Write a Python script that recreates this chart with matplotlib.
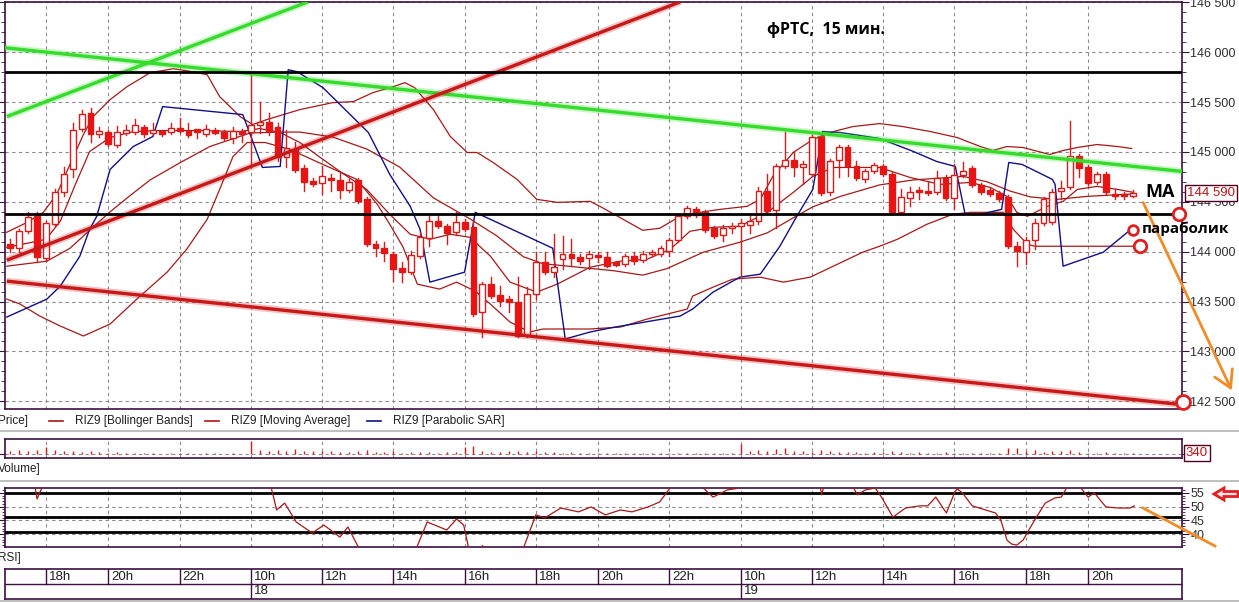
import matplotlib
matplotlib.use('Agg')
import matplotlib.pyplot as plt
from matplotlib.patches import Rectangle, Polygon, FancyArrowPatch
from matplotlib.lines import Line2D
from matplotlib.ticker import MultipleLocator, FuncFormatter

NARROW = ['Liberation Sans', 'DejaVu Sans']
BOLD = ['Open Sans', 'DejaVu Sans']
plt.rcParams['font.family'] = NARROW

# ---- 15 min candles, bar index -4 .. 122 (index 0 = 18h of day 18)
first_bar = -4
opens = [144075, 144035, 144205, 144355,
         143935, 144275, 144595, 144825, 145235, 145395, 145185, 145205, 145075, 145195,
         145205, 145255, 145195, 145205, 145205, 145245, 145215, 145215, 145185, 145225,
         145205, 145145, 145215, 145205, 145275, 145305, 145255, 144945, 145035, 144835,
         144705, 144685, 144735, 144715, 144615, 144715, 144525, 144075, 144035, 143975,
         143835, 143795, 143955, 144135, 144305, 144255, 144195, 144295, 144245, 143395,
         143675, 143565, 143525, 143495, 143165, 143575, 143895, 143795, 143925, 143975,
         143945, 143935, 143965, 143945, 143895, 143875, 143955, 143915, 143975, 143975,
         144005, 144115, 144355, 144425, 144395, 144235, 144165, 144235, 144255, 144265,
         144305, 144605, 144415, 144855, 144915, 144845, 144775, 145165, 144595, 144915,
         145055, 144855, 144725, 144805, 144855, 144775, 144395, 144535, 144605, 144605,
         144595, 144735, 144535, 144765, 144835, 144665, 144615, 144585, 144545, 144055,
         143995, 144115, 144285, 144295, 144605, 144645, 144955, 144845, 144695, 144775,
         144575, 144565, 144555]
highs = [144125, 144225, 144395, 144395,
         144305, 144625, 144845, 145295, 145425, 145445, 145255, 145225, 145265, 145275,
         145335, 145275, 145295, 145225, 145295, 145345, 145295, 145225, 145275, 145245,
         145225, 145255, 145235, 145805, 145505, 145395, 145295, 145225, 145105, 144865,
         144735, 144855, 144775, 144795, 144725, 144735, 144545, 144105, 144095, 143995,
         143895, 144005, 144195, 144355, 144375, 144275, 144395, 144325, 144305, 143695,
         143745, 143655, 143555, 143745, 143645, 143995, 143995, 144175, 144155, 144125,
         143975, 144005, 143995, 143995, 143905, 143975, 143995, 144005, 144015, 144055,
         144135, 144375, 144455, 144445, 144415, 144255, 144265, 144285, 144325, 144355,
         144645, 144775, 144875, 145205, 145005, 144905, 145175, 145185, 144925, 145075,
         145075, 144905, 144825, 144885, 144875, 144795, 144625, 144645, 144645, 144695,
         144805, 144765, 144875, 144895, 144855, 144685, 144635, 144605, 144565, 144095,
         144145, 144325, 144545, 144625, 144705, 145315, 144975, 144865, 144795, 144795,
         144625, 144595, 144615]
lows = [143995, 143995, 144185, 143895,
        143905, 144255, 144555, 144745, 145215, 145105, 145155, 145065, 145055, 145175,
        145185, 145155, 145175, 145165, 145185, 145195, 145155, 145145, 145165, 145185,
        145125, 145095, 145105, 144855, 145195, 145175, 144905, 144845, 144795, 144605,
        144655, 144575, 144605, 144535, 144595, 144485, 144055, 143955, 143905, 143705,
        143695, 143775, 143935, 144055, 144235, 144075, 144165, 144205, 143355, 143145,
        143535, 143455, 143395, 143145, 143145, 143525, 143775, 143745, 143825, 143855,
        143875, 143825, 143895, 143845, 143855, 143855, 143875, 143895, 143955, 143955,
        143955, 144095, 144335, 144345, 144195, 144135, 144105, 144185, 143755, 144185,
        144275, 144375, 144235, 144835, 144755, 144675, 144755, 144565, 144565, 144745,
        144755, 144715, 144695, 144785, 144755, 144375, 144375, 144455, 144525, 144565,
        144575, 144515, 144425, 144745, 144645, 144575, 144555, 144505, 144035, 143855,
        143875, 144025, 144265, 144275, 144525, 144625, 144745, 144665, 144675, 144575,
        144525, 144525, 144545]
closes = [144035, 144205, 144345, 143945,
          144285, 144595, 144775, 145225, 145385, 145185, 145215, 145085, 145205, 145215,
          145275, 145185, 145225, 145185, 145245, 145215, 145175, 145205, 145235, 145195,
          145145, 145215, 145185, 145275, 145305, 145215, 144945, 145045, 144815, 144695,
          144675, 144755, 144715, 144615, 144695, 144505, 144075, 144035, 143985, 143825,
          143795, 143965, 144145, 144305, 144255, 144185, 144295, 144225, 143375, 143675,
          143555, 143505, 143495, 143155, 143575, 143895, 143795, 143845, 143975, 143935,
          143905, 143975, 143945, 143855, 143865, 143955, 143905, 143975, 143995, 144035,
          144115, 144355, 144435, 144365, 144215, 144155, 144235, 144255, 144285, 144305,
          144605, 144405, 144855, 144915, 144845, 144875, 145155, 144585, 144905, 145055,
          144855, 144735, 144805, 144865, 144775, 144395, 144545, 144595, 144595, 144585,
          144735, 144535, 144765, 144805, 144665, 144595, 144575, 144525, 144055, 144005,
          144115, 144285, 144525, 144595, 144635, 144955, 144835, 144685, 144775, 144595,
          144555, 144555, 144590]
volumes = [60, 80, 70, 90,
           150, 90, 70, 60, 50, 60, 40, 30, 40,
           20, 30, 20, 20, 10, 20, 20, 15, 10, 20, 15, 10, 20, 10,
           260,
           90, 70, 80, 60, 100, 70, 60,
           60, 70, 50, 40, 60, 80, 50, 40,
           60, 30, 40, 50, 40, 30, 40, 50,
           150, 160, 60, 50, 40, 60, 70, 50,
           60, 40, 50, 30, 40, 30, 20, 30,
           20, 30, 20, 20, 30, 20, 20, 30,
           20, 20, 30, 20, 20, 20, 20,
           200,
           70, 80, 60, 110, 120, 70, 60, 50,
           80, 60, 40, 50, 40, 30, 40, 50,
           60, 40, 30, 40, 30, 30, 40, 30,
           20, 30, 20, 30, 30, 120,
           130, 60, 80, 50, 60, 70, 80, 40,
           30, 20, 40, 20, 20, 20]

# ---- indicators (bar index, value)
ub_k = [-4.4, -2.1, -0.3, 1.2, 2.7, 4.2, 5.3, 7.2, 9.1, 11.7, 14.3, 15.8, 18.1, 19.5, 21.8,
        23.2, 24.8, 28.5, 32.2, 34.5, 36.7, 39.0, 40.3, 41.4, 43.5, 45.4, 47.3, 48.4, 50.2,
        52.9, 55.1, 57.4, 61.1, 62.2, 64.8, 67.0, 68.9, 71.2, 73.4, 75.7, 78.7, 80.2, 81.6,
        83.9, 86.1, 88.4, 90.6, 93.6, 96.2, 99.3, 102.3, 104.9, 106.3, 107.9, 109.7, 112.7,
        114.2, 115.8, 118.0, 120.3, 121.9]
ub_p = [144195, 144295, 144395, 144575, 144875, 145175, 145355, 145525, 145655, 145795,
        145835, 145815, 145775, 145555, 145355, 145275, 145325, 145425, 145495, 145505,
        145595, 145655, 145695, 145645, 145425, 145155, 144995, 144995, 144895, 144725,
        144525, 144495, 144505, 144455, 144325, 144215, 144235, 144355, 144395, 144425,
        144455, 144525, 144755, 144995, 145125, 145205, 145255, 145285, 145255, 145205,
        145145, 145055, 145015, 145055, 145045, 144975, 145015, 145045, 145075, 145055,
        145035]
mb_k = [-4.4, 0.1, 2.7, 4.9, 7.2, 9.4, 11.7, 15.0, 18.4, 22.9, 26.3, 28.5, 32.2, 36.0, 39.7,
        43.5, 47.6, 50.6, 53.6, 55.8, 59.2, 63.7, 67.0, 69.7, 73.8, 77.9, 81.0, 83.9, 86.1,
        89.2, 93.6, 97.4, 103.0, 105.7, 108.2, 110.5, 113.5, 116.9, 122.1]
mb_p = [143855, 143905, 144035, 144215, 144400, 144560, 144720, 144890, 145055, 145190,
        145200, 145200, 145150, 145030, 144850, 144540, 144330, 144160, 143950, 143880,
        143850, 143810, 143765, 143830, 143995, 144095, 144190, 144340, 144450, 144555,
        144670, 144720, 144755, 144700, 144610, 144550, 144525, 144555, 144580]
lb_k = [-4.4, -2.9, -0.7, 1.6, 4.2, 7.2, 10.2, 13.6, 15.8, 18.1, 19.5, 21.0, 22.6, 24.6,
        27.4, 31.1, 34.9, 37.2, 38.6, 40.1, 41.7, 44.2, 46.1, 48.2, 49.9, 52.1, 54.3, 55.8,
        61.1, 64.5, 67.5, 72.0, 72.6, 74.9, 77.1, 80.2, 82.8, 85.8, 88.4, 91.7, 93.6, 95.6,
        98.9, 101.8, 103.8, 107.5, 108.6, 110.2, 111.0, 122.8]
lb_p = [143525, 143475, 143355, 143255, 143155, 143275, 143525, 143795, 144025, 144325,
        144625, 144955, 145095, 145095, 145025, 144875, 144725, 144475, 144275, 144045,
        143675, 143625, 143695, 143605, 143475, 143295, 143195, 143225, 143225, 143245,
        143325, 143425, 143555, 143645, 143725, 143745, 143695, 143745, 143855, 143995,
        144055, 144125, 144275, 144375, 144395, 144395, 144225, 144075, 144055, 144055]
ma_k = [-4.4, -2.1, 0.0, 1.6, 3.3, 4.9, 7.2, 9.8, 12.8, 17.3, 21.8, 24.0, 26.3, 28.5, 30.8,
        33.0, 36.0, 38.6, 40.9, 43.1, 45.4, 47.6, 49.9, 52.1, 55.1, 57.4, 61.1, 64.5, 67.5,
        70.1, 72.3, 74.9, 77.9, 81.0, 83.9, 86.1, 88.4, 91.1, 93.6, 97.0, 100.4, 103.8,
        106.0, 107.9, 109.0, 110.2, 112.4, 114.2, 115.8, 118.0, 120.3, 122.1]
ma_p = [144045, 144085, 144125, 144305, 144675, 145005, 145145, 145205, 145215, 145215,
        145205, 145235, 145195, 145095, 144945, 144805, 144625, 144375, 144175, 144125,
        144175, 144145, 143955, 143695, 143595, 143675, 143845, 143905, 143925, 144025,
        144205, 144245, 144255, 144395, 144595, 144755, 144845, 144845, 144845, 144745,
        144675, 144695, 144645, 144555, 144395, 144355, 144455, 144505, 144625, 144655,
        144625, 144595]
sar_k = [-4.4, 0.1, 1.6, 3.8, 4.9, 5.7, 7.2, 9.8, 12.0, 13.1, 22.1, 24.3, 26.3, 27.2, 28.2,
         31.1, 36.2, 38.6, 40.9, 42.0, 43.1, 47.0, 48.2, 56.9, 58.3, 61.1, 63.3, 71.2, 72.6,
         74.9, 77.9, 80.2, 82.4, 84.3, 86.1, 86.9, 87.2, 89.2, 93.6, 97.4, 100.0, 102.1,
         103.2, 104.9, 107.3, 108.1, 109.6, 113.0, 113.3, 114.2, 118.7, 121.7]
sar_p = [143345, 143525, 143655, 143955, 144225, 144355, 144825, 145055, 145155, 145455,
         145375, 144845, 144855, 145825, 145805, 145645, 145195, 144775, 144455, 144225,
         143695, 143795, 144395, 144035, 143125, 143195, 143235, 143355, 143425, 143595,
         143745, 143775, 144055, 144355, 144625, 145045, 145205, 145195, 145135, 145005,
         144905, 144855, 144375, 144375, 144425, 144895, 144875, 144725, 144675, 143855,
         143995, 144215]
rsi_k = [-4.6, -1.8, -1.2, -1.0, -0.5, -0.1, 5, 12, 20, 24.6, 25.3, 25.9, 26.8, 28.1, 29.9,
         31.2, 33.0, 33.9, 35.0, 35.5, 38, 41.2, 41.7, 42.8, 45.0, 46.1, 46.9, 47.4, 47.6,
         48.5, 49.0, 49.5, 53.2, 53.7, 55.0, 56.0, 57.8, 59.8, 61.2, 62.8, 64.5, 65.8, 67.6,
         68.9, 70.0, 70.3, 73.4, 73.8, 74.9, 76.5, 77.9, 78.5, 86.8, 87.1, 87.5, 90.2, 91.1,
         92.0, 93.1, 93.8, 95.1, 96.5, 98.1, 99.0, 99.9, 101.1, 102.0, 102.3, 102.9, 104.0,
         106.6, 107.2, 107.9, 108.4, 109.0, 109.7, 111.0, 112.2, 113.3, 114.0, 114.6, 115.0,
         115.8, 116.2, 117.0, 117.7, 118.1, 119.0, 120.4, 121.7, 122.2]
rsi_v = [62, 59.7, 56.8, 52.8, 56.5, 59.7, 63, 62, 63, 59.7, 56.8, 48.8, 51.3, 44.4, 40.4,
         43.3, 38.9, 42.6, 35.7, 32.4, 30, 32.4, 35.7, 44.4, 41.5, 45.5, 43.3, 35.7, 32.4,
         33, 35.8, 33, 32.4, 35.7, 47.0, 45.9, 49.5, 48.1, 49.9, 47.0, 48.8, 48.1, 49.9,
         51.7, 56.5, 59.7, 59.7, 56.8, 53.5, 56.1, 56.8, 59.7, 59.7, 54.3, 59.7, 59.7, 54.3,
         56.1, 56.8, 53.5, 46.2, 49.5, 50.3, 50.3, 53.5, 47.7, 55.0, 56.5, 55.0, 50.3,
         47.7, 45.1, 37.8, 36.4, 36.0, 37.8, 45.1, 51.3, 53.2, 53.5, 56.8, 59.7,
         59.7, 56.8, 53.5, 55.0, 53.5, 49.9, 49.5, 49.5, 50.3]
rsi_levels = [55, 46.2, 40.8]

# hand drawn lines (bar index pairs, price pairs)
green_down = ([-4.6, 127.55], [146045, 144805])
green_up = ([-4.4, 29.4], [145355, 146505])
red_up = ([-4.4, 71.2], [143915, 146505])
red_down = ([-4.4, 127.7], [143705, 142465])
black_levels = [145805, 144375]
sar_end = (122.0, 144215)
lb_end = (122.8, 144055)

tick_pos = [0, 7, 15, 23, 31, 39, 47, 55, 62, 70, 78, 86, 94, 102, 110, 117]
tick_lbl = ['18h', '20h', '22h', '10h', '12h', '14h', '16h', '18h', '20h', '22h',
            '10h', '12h', '14h', '16h', '18h', '20h']
day_pos = [23, 78]
day_lbl = ['18', '19']
last_price = '144 590'
last_volume = '340'

# ---------------------------------------------------------------------------
W, H = 1239, 603
fig = plt.figure(figsize=(W / 100, H / 100), dpi=100)
fig.patch.set_facecolor('white')


def box(x0, y0, x1, y1):
    return [x0 / W, 1 - y1 / H, (x1 - x0) / W, (y1 - y0) / H]


def fx(px):
    return px / W


def fy(py):
    return 1 - py / H


XL = (-4.6, 127.55)
FRAME = '#3c1040'
GRIDC = '#8c8c8c'
DASH = (0, (3, 3))
CRED = '#d81c1c'
IND = '#a81818'
TXT = '#202020'


def frame(a):
    for s in a.spines.values():
        s.set_color(FRAME)
        s.set_linewidth(1.2)


# ---- main price panel
ax = fig.add_axes(box(5, 2, 1182, 409))
ax.set_xlim(*XL)
ax.set_ylim(142423, 146504)
frame(ax)
ax.set_xticks(tick_pos)
ax.tick_params(axis='x', length=0, labelbottom=False)
ax.yaxis.set_major_locator(MultipleLocator(500))
ax.yaxis.set_minor_locator(MultipleLocator(100))
ax.yaxis.set_major_formatter(FuncFormatter(lambda v, p: f"{int(round(v)):,}".replace(',', ' ')))
ax.tick_params(axis='y', which='both', left=True, right=True, labelleft=False,
               labelright=True, direction='out', color=FRAME, labelcolor='#303030',
               labelsize=9, pad=1)
ax.tick_params(axis='y', which='major', length=5)
ax.tick_params(axis='y', which='minor', length=3)
ax.grid(True, which='major', color=GRIDC, lw=0.8, ls=DASH, zorder=0)
ax.set_axisbelow(True)

for i in range(len(opens)):
    k = first_bar + i
    o, h, l, c = opens[i], highs[i], lows[i], closes[i]
    ax.plot([k, k], [l, h], color=CRED, lw=1, zorder=4)
    lo, hi = min(o, c), max(o, c)
    if hi - lo < 25:
        hi = lo + 25
    ax.add_patch(Rectangle((k - 0.33, lo), 0.66, hi - lo,
                           facecolor='white' if c > o else '#f01010',
                           edgecolor=CRED, lw=1, zorder=5))

ax.plot(ub_k, ub_p, color=IND, lw=0.9, zorder=3)
ax.plot(mb_k, mb_p, color=IND, lw=0.9, zorder=3)
ax.plot(lb_k, lb_p, color=IND, lw=0.9, zorder=3)
ax.plot(ma_k, ma_p, color=IND, lw=0.9, zorder=3)
ax.plot(sar_k, sar_p, color='#101088', lw=1, zorder=3)

for xs, ys, col in [(green_down[0], green_down[1], '#36dc2c'),
                    (green_up[0], green_up[1], '#36dc2c'),
                    (red_up[0], red_up[1], '#c81818'),
                    (red_down[0], red_down[1], '#c81818')]:
    ax.plot(xs, ys, color=col, lw=5, alpha=0.25, zorder=6, solid_capstyle='butt')
    ax.plot(xs, ys, color=col, lw=2.4, zorder=6, solid_capstyle='butt')
for lv in black_levels:
    ax.axhline(lv, color='black', lw=2, zorder=6)

circ = dict(marker='o', mfc='white', mec='#e02020', mew=2, clip_on=False, zorder=12)
ax.plot([127.2], [black_levels[1]], ms=9, **circ)
ax.plot([red_down[0][1]], [red_down[1][1] + 30], ms=10, **circ)
ax.plot([sar_end[0]], [sar_end[1]], ms=7, **circ)
ax.plot([lb_end[0]], [lb_end[1]], ms=9, **circ)

# ---- volume panel
axv = fig.add_axes(box(5, 439, 1182, 458))
axv.set_xlim(*XL)
axv.set_ylim(-80, 300)
frame(axv)
axv.set_xticks(tick_pos)
axv.set_yticks([0])
axv.tick_params(axis='x', length=0, labelbottom=False)
axv.tick_params(axis='y', left=True, right=True, labelleft=False, labelright=False,
                length=4, color=FRAME)
axv.grid(True, color=GRIDC, lw=0.8, ls=DASH, zorder=0)
axv.vlines([first_bar + i for i in range(len(volumes))], 0, volumes, color=CRED, lw=1, zorder=3)

# ---- RSI panel
axr = fig.add_axes(box(5, 488, 1182, 547))
axr.set_xlim(*XL)
axr.set_ylim(35.3, 56.8)
frame(axr)
axr.set_xticks(tick_pos)
axr.set_yticks([40, 45, 50, 55])
axr.yaxis.set_minor_locator(MultipleLocator(1))
axr.tick_params(axis='x', length=0, labelbottom=False)
axr.tick_params(axis='y', which='both', left=True, right=True, labelleft=False,
                labelright=True, direction='out', color=FRAME, labelcolor='#303030',
                labelsize=9, pad=1)
axr.tick_params(axis='y', which='major', length=5)
axr.tick_params(axis='y', which='minor', length=2.5)
axr.grid(True, color=GRIDC, lw=0.8, ls=DASH, zorder=0)
for lv in rsi_levels:
    axr.axhline(lv, color='black', lw=2, zorder=4)
axr.plot(rsi_k, rsi_v, color=IND, lw=0.9, zorder=5)

# ---- time scale table
axt = fig.add_axes(box(5, 569, 1182, 599))
axt.set_xlim(*XL)
axt.set_ylim(0, 2)
frame(axt)
axt.set_xticks([])
axt.set_yticks([])
axt.axhline(1, color=FRAME, lw=1)
for p, t in zip(tick_pos, tick_lbl):
    axt.plot([p, p], [1, 2], color=FRAME, lw=1)
    axt.text(p + 0.35, 1.5, t, fontsize=9.5, va='center', ha='left', color=TXT)
for p, t in zip(day_pos, day_lbl):
    axt.plot([p, p], [0, 1], color=FRAME, lw=1)
    axt.text(p + 0.35, 0.5, t, fontsize=9.5, va='center', ha='left', color=TXT)

# ---- separators and panel captions
for yy in [431, 481, 601]:
    fig.add_artist(Line2D([0, 1], [fy(yy), fy(yy)], color='#b4b4b4', lw=1.2))
fig.text(fx(-2), fy(421), 'Price]', fontsize=8.5, va='center', color=TXT)
fig.text(fx(-2), fy(469), 'Volume]', fontsize=8.5, va='center', color=TXT)
fig.text(fx(-2), fy(558), 'RSI]', fontsize=8.5, va='center', color=TXT)
for x0, col, label in [(49, IND, 'RIZ9 [Bollinger Bands]'),
                       (205, IND, 'RIZ9 [Moving Average]'),
                       (367, '#101088', 'RIZ9 [Parabolic SAR]')]:
    fig.add_artist(Line2D([fx(x0), fx(x0 + 14)], [fy(421), fy(421)], color=col, lw=1.2))
    fig.text(fx(x0 + 26), fy(421), label, fontsize=8.5, va='center', color=TXT)

# ---- annotations
fig.text(fx(767), fy(30), 'фРТС,  15 мин.', family=BOLD, fontweight='bold',
         fontsize=11.5, va='center', ha='left')
fig.text(fx(1145), fy(192), 'MA', family=BOLD, fontweight='bold', fontsize=13,
         va='center', ha='left')
fig.text(fx(1142), fy(229), 'параболик', family=BOLD, fontweight='bold', fontsize=11,
         va='center', ha='left')
fig.text(fx(1211), fy(193), last_price, ha='center', va='center', color='#c01010',
         fontsize=9.5, bbox=dict(boxstyle='square,pad=0.12', fc='white', ec='#500020', lw=1))
fig.text(fx(1197), fy(453), last_volume, ha='center', va='center', color='#c01010',
         fontsize=9.5, bbox=dict(boxstyle='square,pad=0.12', fc='white', ec='#500020', lw=1))

orange = '#f28c28'
fig.add_artist(FancyArrowPatch((fx(1142), fy(200)), (fx(1233), fy(393)),
                               transform=fig.transFigure, arrowstyle='->,head_length=0.6,head_width=0.35',
                               mutation_scale=20, color=orange, lw=2))
fig.add_artist(Line2D([fx(1143), fx(1215)], [fy(508), fy(546)], color=orange, lw=2))
arrow_pts = [(1214, 494), (1224, 488), (1224, 491.5), (1238, 491.5), (1238, 496.5),
             (1224, 496.5), (1224, 500)]
fig.add_artist(Polygon([(fx(a), fy(b)) for a, b in arrow_pts], closed=True,
                       transform=fig.transFigure, fc='#ffe4e4', ec='#e02020', lw=2))

fig.savefig('out.png', dpi=100)
